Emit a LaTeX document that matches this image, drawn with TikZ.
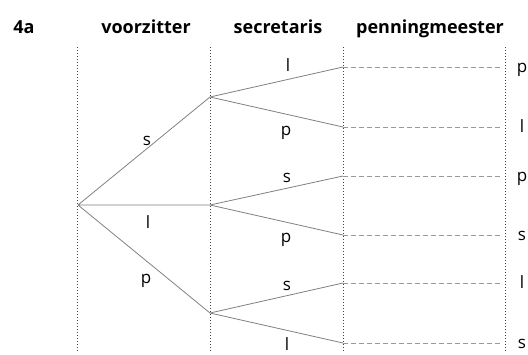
\documentclass[tikz,border=0pt]{standalone}
\usepackage{fontspec}
\setmainfont{Open Sans}
\usetikzlibrary{positioning}

\tikzset{
  tak/.style={draw=gray,line width=0.8pt},
  stip/.style={draw=gray!80,dash pattern=on 5pt off 3pt,line width=0.7pt},
  kolom/.style={draw=black!75,dash pattern=on 1.2pt off 1.8pt,line width=0.7pt},
  kop/.style={font=\fontsize{18}{22}\selectfont\bfseries,anchor=base,inner sep=0pt},
  letter/.style={font=\fontsize{17}{20}\selectfont,anchor=base,inner sep=0pt}
}

\begin{document}
\begin{tikzpicture}[x=1pt,y=-1pt]
\useasboundingbox (0,0) rectangle (528,354);
% kopjes
\node[kop] (k0) at (24,33) {4a};
\node[kop] (k1) at (146,33) {voorzitter};
\node[kop] (k2) at (278,33) {secretaris};
\node[kop] (k3) at (430,33) {penningmeester};
% kolommen
\foreach \x/\n in {77/a,210/b,343/c,505/d}
  \draw[kolom] (\x,47) coordinate (\n0) -- (\x,352) coordinate (\n1);
% boom
\coordinate (r) at (78,205);
\coordinate (v1) at (210,97);
\coordinate (v2) at (210,205);
\coordinate (v3) at (210,313);
\foreach \y [count=\i] in {67,127,176,235,283,343} {
  \coordinate (s\i) at (343,\y);
  \coordinate (e\i) at (501,\y);
}
\draw[tak] (r) -- (v1) (r) -- (v2) (r) -- (v3);
\draw[tak] (v1) -- (s1) (v1) -- (s2) (v2) -- (s3) (v2) -- (s4) (v3) -- (s5) (v3) -- (s6);
\foreach \i in {1,...,6} \draw[stip] (s\i) -- (e\i);
% letters bij de takken
\node[letter] (t1) at (147,145) {s};
\node[letter] (t2) at (148,228) {l};
\node[letter] (t3) at (146,283) {p};
\node[letter] (u1) at (288,71) {l};
\node[letter] (u2) at (286,135) {p};
\node[letter] (u3) at (287,182) {s};
\node[letter] (u4) at (286,242) {p};
\node[letter] (u5) at (287,290) {s};
\node[letter] (u6) at (287,350) {l};
% penningmeester
\foreach \y/\c [count=\i] in {67/p,127/l,176/p,235/s,283/l,343/s}
  \node[letter] (w\i) at (522,\y+5) {\c};
\end{tikzpicture}
\end{document}
